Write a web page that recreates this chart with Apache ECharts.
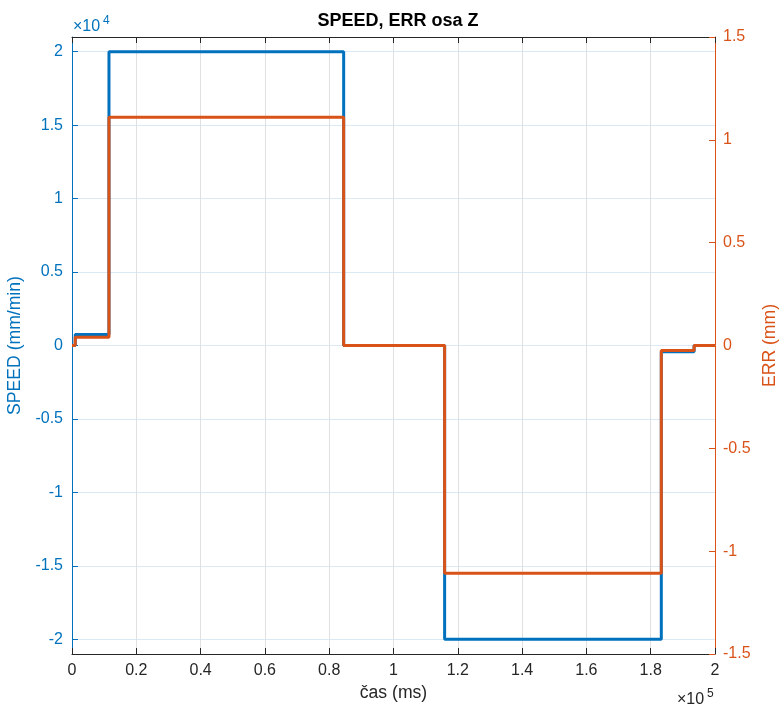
<!DOCTYPE html>
<html>
<head>
<meta charset="utf-8">
<script src="https://cdn.jsdelivr.net/npm/echarts@6/dist/echarts.min.js"></script>
<style>html,body{margin:0;padding:0;background:#fff}#c{width:780px;height:709px}</style>
</head>
<body>
<div id="c"></div>
<script>
// time (ms) at each corner of the step signals
var timeSpeed = [0, 1000, 1000, 11500, 11500, 84500, 84500, 115900, 115900, 183300, 183300, 193500, 193500, 200000];
var speedValues = [0, 0, 750, 750, 20000, 20000, 0, 0, -20000, -20000, -430, -430, 0, 0];
var timeErr = [0, 1000, 1000, 11500, 11500, 84500, 84500, 115900, 115900, 183300, 183300, 193500, 193500, 200000];
var errValues = [0, 0, 0.04, 0.04, 1.11, 1.11, 0, 0, -1.107, -1.107, -0.024, -0.024, 0, 0];
var speedTicks = [-20000, -15000, -10000, -5000, 0, 5000, 10000, 15000, 20000];

var BLUE = '#0072BD', ORANGE = '#D95319', DARK = '#262626';
var FONT = '"Liberation Sans", Arial, Helvetica, sans-serif';

var chart = echarts.init(document.getElementById('c'), null, {renderer: 'canvas'});
var speedData = timeSpeed.map(function (t, i) { return [t, speedValues[i]]; });
var errData = timeErr.map(function (t, i) { return [t, errValues[i]]; });

chart.setOption({
  animation: false,
  backgroundColor: '#fff',
  title: {
    text: 'SPEED, ERR osa Z', left: 393, top: 7, textAlign: 'center',
    textStyle: {fontFamily: FONT, fontSize: 18, fontWeight: 'bold', color: '#000'}
  },
  grid: {left: 72, right: 65, top: 37, bottom: 55, outerBoundsMode: 'none', containLabel: false},
  xAxis: [{
    type: 'value', position: 'bottom', min: 0, max: 200000, interval: 20000,
    name: 'čas (ms)', nameLocation: 'middle', nameGap: 24,
    nameTextStyle: {fontFamily: FONT, fontSize: 17.6, color: DARK},
    axisLine: {show: true, onZero: false, lineStyle: {color: DARK, width: 1}},
    axisTick: {show: true, inside: true, length: 6, lineStyle: {color: DARK}},
    axisLabel: {margin: 9, fontFamily: FONT, fontSize: 16, color: DARK,
      formatter: function (v) { return String(v / 100000); }},
    splitLine: {show: true, lineStyle: {color: '#e0e0e0', width: 1}}
  }, {
    type: 'value', position: 'top', min: 0, max: 200000, interval: 20000,
    axisLine: {show: true, onZero: false, lineStyle: {color: DARK, width: 1}},
    axisTick: {show: true, inside: true, length: 6, lineStyle: {color: DARK}},
    axisLabel: {show: false},
    splitLine: {show: false}
  }],
  yAxis: [{
    type: 'value', position: 'left', min: -21000, max: 21000,
    name: 'SPEED (mm/min)', nameLocation: 'middle', nameGap: 40, nameRotate: 90,
    nameTextStyle: {fontFamily: FONT, fontSize: 17.6, color: BLUE},
    axisLine: {show: true, onZero: false, lineStyle: {color: BLUE, width: 1}},
    axisTick: {show: true, inside: true, length: 6, lineStyle: {color: BLUE}, customValues: speedTicks},
    axisLabel: {margin: 9, fontFamily: FONT, fontSize: 16, color: BLUE, customValues: speedTicks,
      formatter: function (v) { return String(v / 10000); }},
    splitLine: {show: true, lineStyle: {color: '#dbe9f5', width: 1}}
  }, {
    type: 'value', position: 'right', min: -1.5, max: 1.5, interval: 0.5,
    name: 'ERR (mm)', nameLocation: 'middle', nameGap: 42, nameRotate: 90,
    nameTextStyle: {fontFamily: FONT, fontSize: 17.6, color: ORANGE},
    axisLine: {show: true, onZero: false, lineStyle: {color: ORANGE, width: 1}},
    axisTick: {show: true, inside: true, length: 6, lineStyle: {color: ORANGE}},
    axisLabel: {margin: 8, fontFamily: FONT, fontSize: 16, color: ORANGE},
    splitLine: {show: false}
  }],
  series: [{
    name: 'SPEED', type: 'line', xAxisIndex: 0, yAxisIndex: 0, data: speedData,
    showSymbol: false, symbol: 'none', lineStyle: {color: BLUE, width: 3}, itemStyle: {color: BLUE}, z: 2
  }, {
    name: 'ERR', type: 'line', xAxisIndex: 0, yAxisIndex: 1, data: errData,
    showSymbol: false, symbol: 'none', lineStyle: {color: ORANGE, width: 3}, itemStyle: {color: ORANGE}, z: 3
  }],
  graphic: [
    {type: 'text', left: 73, top: 19, style: {text: '×10', fill: BLUE, font: '16px ' + FONT}},
    {type: 'text', left: 103, top: 15, style: {text: '4', fill: BLUE, font: '12px ' + FONT}},
    {type: 'text', left: 677, top: 692, style: {text: '×10', fill: DARK, font: '16px ' + FONT}},
    {type: 'text', left: 707, top: 688, style: {text: '5', fill: DARK, font: '12px ' + FONT}}
  ]
});
</script>
</body>
</html>
